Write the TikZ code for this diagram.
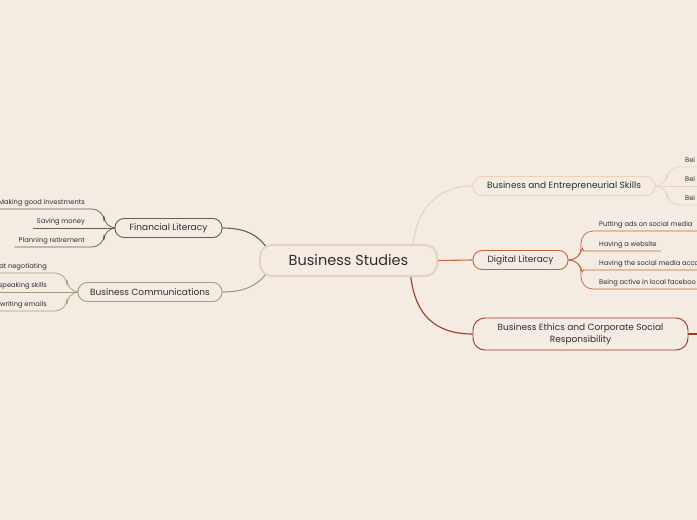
\documentclass[tikz,border=0pt]{standalone}
\usepackage{fontspec}
\setmainfont{Poppins}
\usepackage{xcolor}
\definecolor{paper}{HTML}{F4EBE3}
\definecolor{ink}{HTML}{2E2E2E}
\definecolor{rootc}{HTML}{E8D2BF}
\definecolor{finc}{HTML}{5C634E}
\definecolor{comc}{HTML}{A39D7D}
\definecolor{bec}{HTML}{EAD2BE}
\definecolor{digc}{HTML}{C4663E}
\definecolor{ethc}{HTML}{9C3A26}
\usepackage{tikz}
\usetikzlibrary{positioning, backgrounds}

\begin{document}
\begin{tikzpicture}[x=1pt, y=-1pt,
    root/.style={rectangle, rounded corners=12pt, draw=rootc, line width=2pt, fill=paper,
                 text=ink, font=\fontsize{14.5}{16}\selectfont, minimum width=177pt,
                 minimum height=31pt, inner sep=0pt},
    topic/.style={rectangle, rounded corners=9pt, fill=paper, line width=0.9pt,
                  text=ink, font=\fontsize{9}{11.5}\selectfont, minimum height=19pt,
                  inner sep=0pt, align=center},
    leaf/.style={text=ink, font=\fontsize{6.7}{7}\selectfont, inner xsep=4pt,
                 inner ysep=2.5pt, text height=5pt, text depth=1.5pt},
    link/.style={line width=1.1pt},
    twig/.style={line width=0.7pt, rounded corners=12pt}]
  \useasboundingbox (0,0) rectangle (697,520);
  \clip (0,0) rectangle (697,520);
  \begin{scope}[on background layer]
    \fill[paper] (0,0) rectangle (697,520);
  \end{scope}

  % main topics
  \node[root] (studies) at (348.5,260.5) {Business Studies};
  \node[topic, draw=finc, minimum width=107pt] (fin) at (168.5,228) {Financial Literacy};
  \node[topic, draw=comc, minimum width=144pt] (comm) at (150,292) {Business Communications};
  \node[topic, draw=bec, minimum width=182pt] (skills) at (564,186) {Business and Entrepreneurial Skills};
  \node[topic, draw=digc, minimum width=95pt] (digital) at (520.5,260) {Digital Literacy};
  \node[topic, draw=ethc, minimum width=215pt, minimum height=32pt, rounded corners=12pt]
    (ethics) at (580.5,334) {Business Ethics and Corporate Social\\Responsibility};
  \coordinate (ethend) at (710,334);

  % leaves
  \coordinate (jfin) at (104,228);
  \node[leaf, anchor=south east] (inv) at (89,209) {Making good investments};
  \node[leaf, anchor=south east] (save) at (89,228) {Saving money};
  \node[leaf, anchor=south east] (retire) at (89,247) {Planning retirement};

  \coordinate (jcom) at (67,292);
  \node[leaf, anchor=south east] (nego) at (51,273) {at negotiating};
  \node[leaf, anchor=south east] (speak) at (51,292) {speaking skills};
  \node[leaf, anchor=south east] (mail) at (51,311) {writing emails};

  \coordinate (jskill) at (667,186);
  \node[leaf, anchor=south west] (bei1) at (681,167) {Bei};
  \node[leaf, anchor=south west] (bei2) at (681,186) {Bei};
  \node[leaf, anchor=south west] (bei3) at (681,205) {Bei};

  \coordinate (jdig) at (581,260);
  \node[leaf, anchor=south west] (ads) at (595,231) {Putting ads on social media};
  \node[leaf, anchor=south west] (web) at (595,251) {Having a website};
  \node[leaf, anchor=south west] (acct) at (595,270) {Having the social media acco};
  \node[leaf, anchor=south west] (group) at (595,289) {Being active in local faceboo};

  \begin{scope}[on background layer]
    \draw[link, finc] (fin.east) .. controls (250,228) and (262,238) .. (272,256);
    \draw[link, comc] (comm.east) .. controls (250,292) and (262,282) .. (272,265);
    \draw[link, bec] (412,255) .. controls (415,205) and (440,186) .. (skills.west);
    \draw[link, digc] (studies.east) -- (digital.west);
    \draw[link, ethc] (410,268) .. controls (413,318) and (438,334) .. (ethics.west);
    \draw[link, ethc] (ethics.east) -- (ethend);

    \draw[twig, finc] (fin.west) -- (jfin) |- (inv.south west);
    \draw[twig, finc] (fin.west) -- (save.south west);
    \draw[twig, finc] (fin.west) -- (jfin) |- (retire.south west);

    \draw[twig, comc] (comm.west) -- (jcom) |- (nego.south west);
    \draw[twig, comc] (comm.west) -- (speak.south west);
    \draw[twig, comc] (comm.west) -- (jcom) |- (mail.south west);

    \draw[twig, bec] (skills.east) -- (jskill) |- ([xshift=40pt]bei1.south east);
    \draw[twig, bec] (skills.east) -- ([xshift=40pt]bei2.south east);
    \draw[twig, bec] (skills.east) -- (jskill) |- ([xshift=40pt]bei3.south east);

    \draw[twig, digc] (digital.east) -- (jdig) |- ([xshift=30pt]ads.south east);
    \draw[twig, digc] (digital.east) -- (jdig) .. controls (582,251) and (587,251) .. (595,251) -- (web.south east);
    \draw[twig, digc] (digital.east) -- (jdig) .. controls (582,270) and (587,270) .. (595,270) -- ([xshift=30pt]acct.south east);
    \draw[twig, digc] (digital.east) -- (jdig) |- ([xshift=30pt]group.south east);
  \end{scope}
\end{tikzpicture}
\end{document}
